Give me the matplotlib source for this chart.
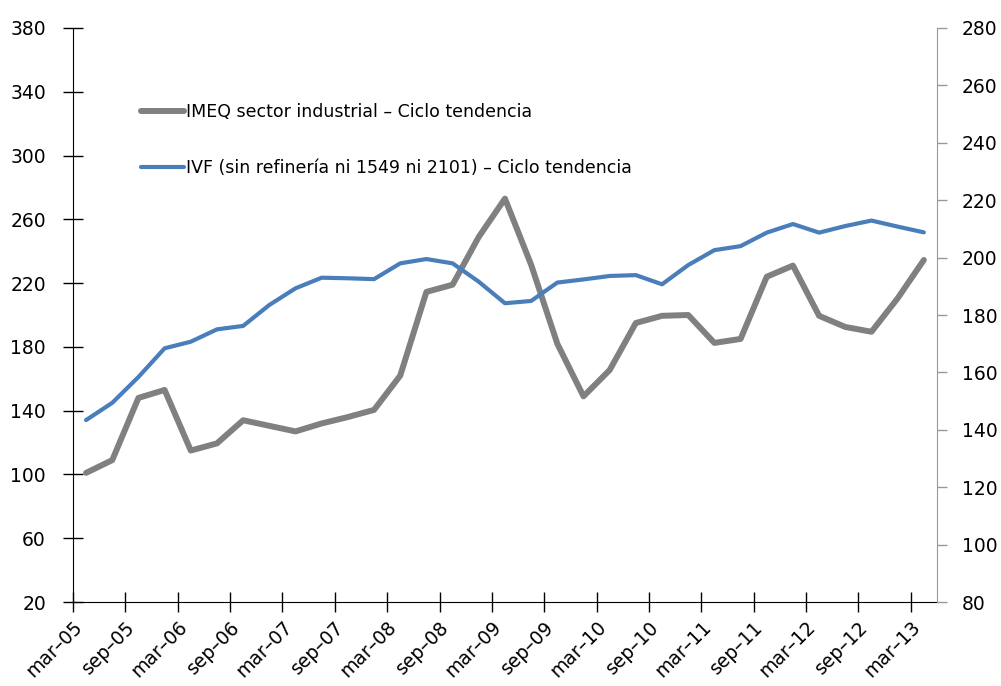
import matplotlib
matplotlib.use("Agg")
import matplotlib.pyplot as plt
import matplotlib.transforms as mtransforms
import numpy as np

# Quarterly series, mar-05 .. mar-13
imeq = [101, 109, 148, 153, 115, 119.5, 134, 130.5, 127, 132, 136, 140.5,
        162, 214.5, 219, 249, 273, 231.5, 182, 149, 165.5, 195, 199.5, 200,
        182.5, 185, 224, 231, 199.5, 192.5, 189.5, 210.5, 234.5]
ivf = [143.4, 149.4, 158.4, 168.4, 170.7, 175, 176.2, 183.5, 189.3, 193, 192.8,
       192.5, 198, 199.5, 198, 191.6, 184.1, 184.9, 191.3, 192.4, 193.6, 193.9,
       190.7, 197.4, 202.6, 204, 208.7, 211.7, 208.7, 211, 212.9, 210.8, 208.8]
tick_labels = ["mar–05", "sep–05", "mar–06", "sep–06", "mar–07", "sep–07",
               "mar–08", "sep–08", "mar–09", "sep–09", "mar–10", "sep–10",
               "mar–11", "sep–11", "mar–12", "sep–12", "mar–13"]

label_imeq = "IMEQ sector industrial – Ciclo tendencia"
label_ivf = "IVF (sin refinería ni 1549 ni 2101) – Ciclo tendencia"

fig = plt.figure(figsize=(10.01, 6.86), dpi=100)
ax = fig.add_axes([0.0729, 0.1224, 0.8631, 0.8368])
ax2 = ax.twinx()

x = np.arange(len(imeq))
l1, = ax.plot(x, imeq, color="#808080", lw=4.3, solid_capstyle="round",
              label=label_imeq)
l2, = ax2.plot(x, ivf, color="#4A7EBB", lw=3.0, solid_capstyle="round",
               label=label_ivf)

ax.set_xlim(-0.5, len(imeq) - 0.5)
ax.set_ylim(20, 380)
ax.set_yticks(np.arange(20, 381, 40))
ax2.set_ylim(80, 280)
ax2.set_yticks(np.arange(80, 281, 20))

ax.set_xticks(np.arange(-0.5, len(imeq) - 1, 2))
ax.set_xticklabels(tick_labels, rotation=45, ha="right", va="top",
                   rotation_mode="anchor")
# nudge rotated labels down-right like the original
offset = mtransforms.ScaledTranslation(0.12, -0.12, fig.dpi_scale_trans)
for lab in ax.get_xticklabels():
    lab.set_transform(lab.get_transform() + offset)

for a in (ax, ax2):
    a.spines["top"].set_visible(False)
ax.spines["right"].set_visible(False)
ax2.spines["left"].set_visible(False)
ax2.spines["bottom"].set_visible(False)
ax2.spines["right"].set_color("#999999")

ax.tick_params(axis="y", direction="inout", length=15, width=1, labelsize=13.5, pad=12)
ax.tick_params(axis="x", direction="inout", length=14, width=1, labelsize=13.5, pad=4)
ax2.tick_params(axis="y", direction="out", length=7, width=1, color="#999999",
                labelsize=13.5, pad=11)

ax.legend([l1, l2], [label_imeq, label_ivf], loc="upper left",
          bbox_to_anchor=(0.061, 0.8965), frameon=False, fontsize=12.5,
          handlelength=2.45, handletextpad=0.15, labelspacing=2.2)

fig.savefig("out.png", dpi=100)
